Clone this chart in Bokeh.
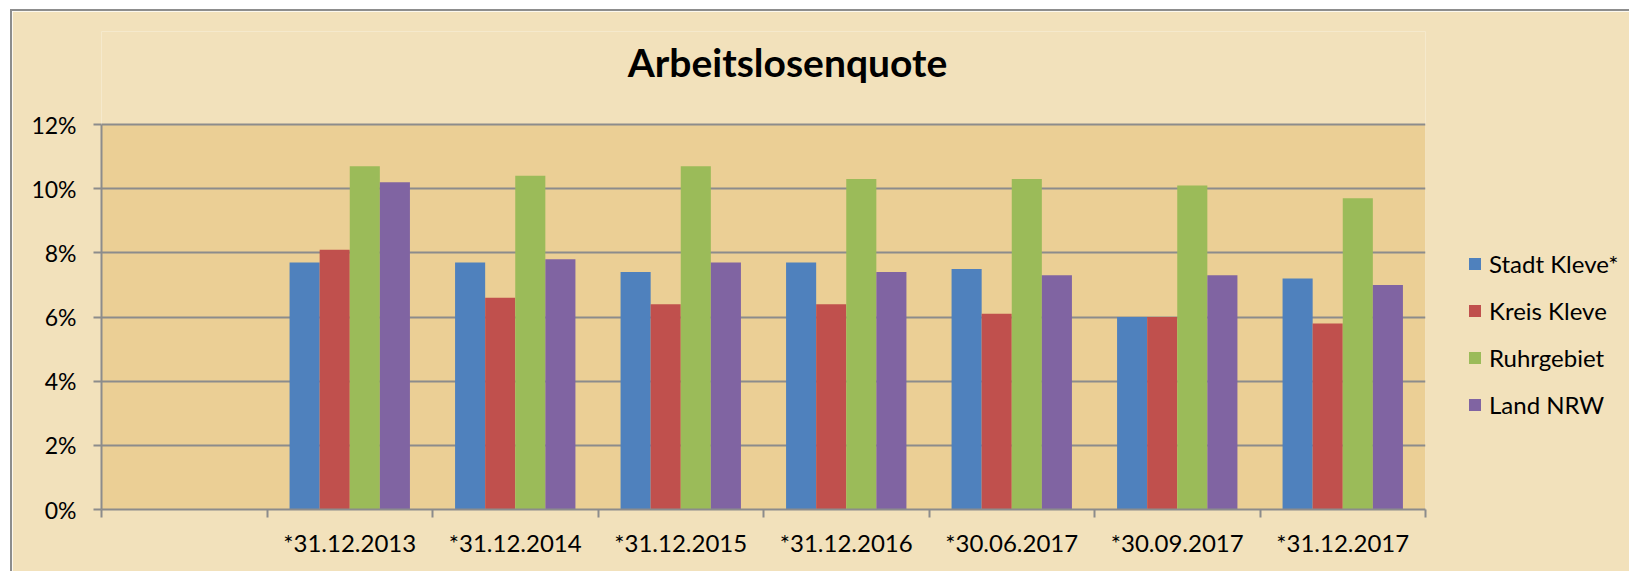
import numpy as np
from bokeh.plotting import figure
from bokeh.models import (Range1d, FixedTicker, PrintfTickFormatter, Legend, LegendItem,
                          ColumnDataSource, Label, BoxAnnotation)
from bokeh.embed import file_html
from bokeh.resources import INLINE

categories = [" ", "*31.12.2013", "*31.12.2014", "*31.12.2015", "*31.12.2016",
              "*30.06.2017", "*30.09.2017", "*31.12.2017"]
series_names = ["Stadt Kleve*", "Kreis Kleve", "Ruhrgebiet", "Land NRW"]
stadt_kleve = [None, 7.7, 7.7, 7.4, 7.7, 7.5, 6.0, 7.2]
kreis_kleve = [None, 8.1, 6.6, 6.4, 6.4, 6.1, 6.0, 5.8]
ruhrgebiet = [None, 10.7, 10.4, 10.7, 10.3, 10.3, 10.1, 9.7]
land_nrw = [None, 10.2, 7.8, 7.7, 7.4, 7.3, 7.3, 7.0]
colors = ["#4F81BD", "#C0504D", "#9BBB59", "#8064A2"]
y_ticks = [0, 2, 4, 6, 8, 10, 12]
title_text = "Arbeitslosenquote"

FONT = "Lato"
series = [stadt_kleve, kreis_kleve, ruhrgebiet, land_nrw]
n_cat = len(categories)
n_ser = len(series)
gap = 1.5
bw = 1.0 / (n_ser + gap)

PLOT_H = 385          # pixel height of the 0..12 % area
TOP = 20              # border above the (extended) frame
EXTRA = 113 - TOP     # room for the title inside the frame
frame_h = PLOT_H + EXTRA
y_max = y_ticks[-1]
y_top = y_max * frame_h / PLOT_H

OUTER = "#F2E1BB"
INNER = "#EBCF95"

p = figure(frame_width=1324, frame_height=frame_h, output_backend="svg", toolbar_location=None,
           x_range=Range1d(0, n_cat), y_range=Range1d(0, y_top),
           min_border_left=89, min_border_top=TOP, min_border_bottom=62, min_border_right=30,
           background_fill_color=OUTER, border_fill_color=OUTER,
           outline_line_color=None, margin=(9, 0, 0, 10),
           styles={"border-top": "2px solid #8d8d8d", "border-left": "2px solid #8d8d8d"})

# plot-area background (0..n_cat, 0..12 %)
bg = BoxAnnotation(left=0, right=n_cat, bottom=0, top=y_max, fill_color=INNER,
                   fill_alpha=1.0, line_color=None, level="underlay")
p.center = [bg] + list(p.center)

centers = np.arange(n_cat) + 0.5
items = []
for k, (name, vals, col) in enumerate(zip(series_names, series, colors)):
    xs = centers + (k - (n_ser - 1) / 2) * bw
    tops = [np.nan if v is None else v for v in vals]
    src = ColumnDataSource(dict(x=xs, top=tops))
    r = p.vbar(x="x", top="top", bottom=0, width=bw, source=src,
               fill_color=col, line_color=None)
    items.append(LegendItem(label=name, renderers=[r]))

# axes
xa = p.xaxis[0]
xa.ticker = FixedTicker(ticks=list(centers), minor_ticks=list(np.arange(n_cat + 1)))
xa.major_label_overrides = {float(c): lab for c, lab in zip(centers, categories)}
xa.major_tick_line_color = None
xa.minor_tick_line_color = "#8c8c8c"
xa.minor_tick_line_width = 2
xa.minor_tick_out = 8
xa.minor_tick_in = 0
xa.axis_line_color = "#8c8c8c"
xa.axis_line_width = 2
xa.major_label_text_font = FONT
xa.major_label_text_font_size = "24px"
xa.major_label_text_color = "#000000"
xa.major_label_standoff = 10

ya = p.yaxis[0]
ya.ticker = FixedTicker(ticks=y_ticks)
ya.bounds = (0, y_max)
ya.formatter = PrintfTickFormatter(format="%d%%")
ya.major_tick_line_color = "#8c8c8c"
ya.major_tick_line_width = 2
ya.major_tick_out = 8
ya.major_tick_in = 0
ya.minor_tick_line_color = None
ya.axis_line_color = "#8c8c8c"
ya.axis_line_width = 2
ya.major_label_text_font = FONT
ya.major_label_text_font_size = "23px"
ya.major_label_text_color = "#000000"
ya.major_label_standoff = 17

p.xgrid.grid_line_color = None
p.ygrid.grid_line_color = "#8c8c8c"
p.ygrid.grid_line_width = 2
p.ygrid.ticker = FixedTicker(ticks=y_ticks)

p.add_layout(Label(text=title_text, x=686, y=448, x_units="screen", y_units="screen",
                   text_font=FONT, text_font_size="39px", text_font_style="bold",
                   text_color="#000000", text_align="center", text_baseline="alphabetic"))

legend = Legend(items=items, location=(42, 90), orientation="vertical",
                label_text_font=FONT, label_text_font_size="24px", label_text_color="#000000",
                glyph_width=15, glyph_height=15, label_standoff=7, label_height=26,
                spacing=18, padding=0, margin=0,
                background_fill_alpha=0, border_line_color=None)
p.add_layout(legend, "right")

open("out.html", "w").write(file_html(p, INLINE))
